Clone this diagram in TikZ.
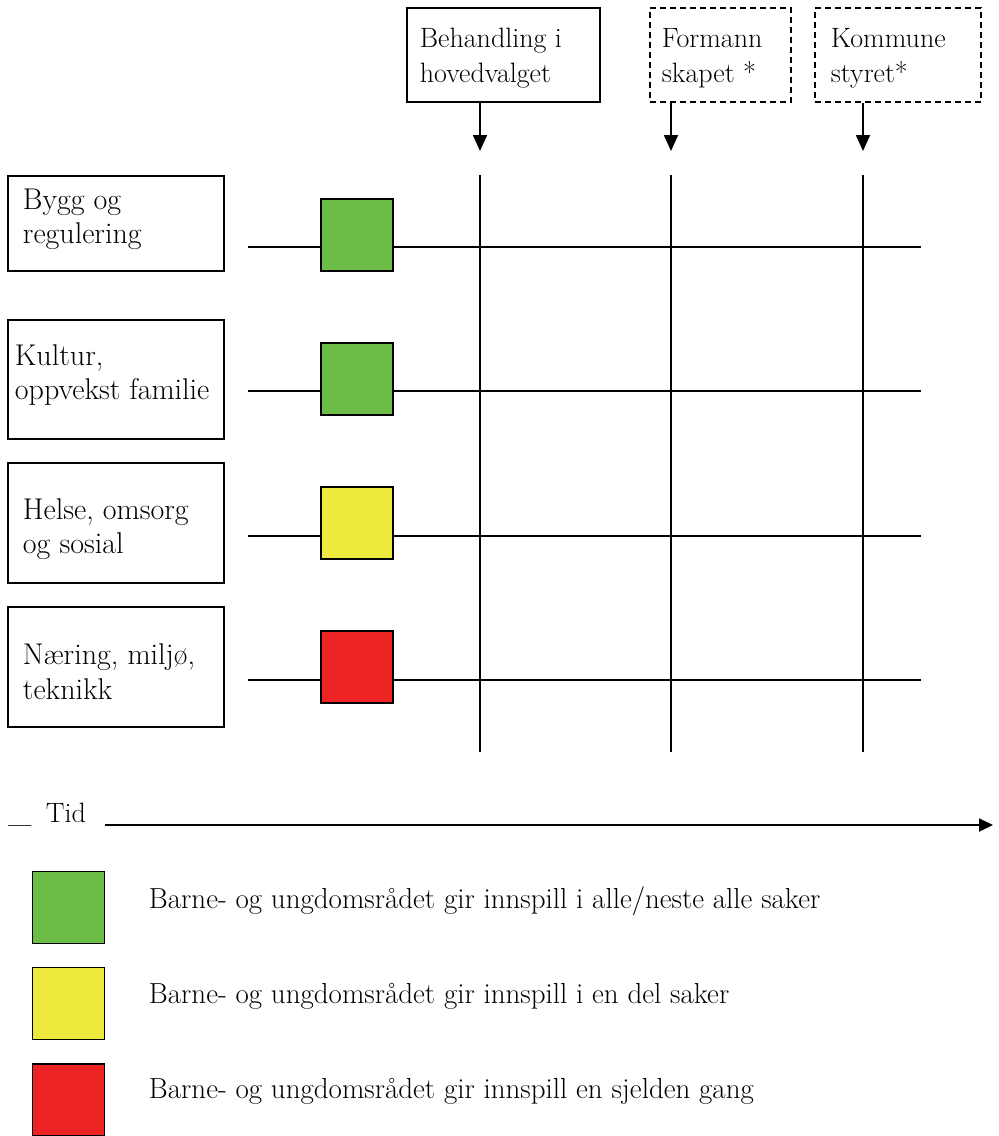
\documentclass[tikz,border=0pt]{standalone}
\usetikzlibrary{arrows.meta}
\definecolor{cgreen}{HTML}{6CBD45}
\definecolor{cyellow}{HTML}{EEEA3D}
\definecolor{cred}{HTML}{EE2424}

\begin{document}
\begin{tikzpicture}[x=1pt,y=-1pt,line width=1.8pt,
  txt/.style={anchor=base west,inner sep=0pt,font=\fontsize{28}{34}\selectfont},
  rowtxt/.style={txt,font=\fontsize{30}{34}\selectfont},
  legtxt/.style={txt,font=\fontsize{29}{34}\selectfont},
  frame/.style={draw,rectangle,inner sep=0pt},
  dframe/.style={frame,dash pattern=on 6pt off 4pt},
  sq/.style={draw,rectangle,inner sep=0pt,minimum size=72pt},
  arr/.style={-{Triangle[width=14pt,length=16pt]}}]
\useasboundingbox (0,0) rectangle (999,1136);

% decision stages at the top
\node[frame,minimum width=193,minimum height=94] (hv) at (503.5,55) {};
\node[txt] (hvt1) at (419,47) {Behandling i};
\node[txt] (hvt2) at (419,82) {hovedvalget};
\node[dframe,minimum width=141,minimum height=94] (fs) at (720.5,55) {};
\node[txt] (fst1) at (661,47) {Formann};
\node[txt] (fst2) at (661,82) {skapet *};
\node[dframe,minimum width=166,minimum height=94] (ks) at (898,55) {};
\node[txt] (kst1) at (830,47) {Kommune};
\node[txt] (kst2) at (830,82) {styret*};

\coordinate (a1) at (480,151);
\coordinate (a2) at (671,151);
\coordinate (a3) at (863,151);
\draw[arr] (hv.south -| a1) -- (a1);
\draw[arr] (fs.south -| a2) -- (a2);
\draw[arr] (ks.south -| a3) -- (a3);

% vertical stage lines
\coordinate (v1t) at (480,175); \coordinate (v1b) at (480,752);
\coordinate (v2t) at (671,175); \coordinate (v2b) at (671,752);
\coordinate (v3t) at (863,175); \coordinate (v3b) at (863,752);
\draw (v1t) -- (v1b);
\draw (v2t) -- (v2b);
\draw (v3t) -- (v3b);

% committee rows
\node[frame,minimum width=216,minimum height=95] (b1) at (116,223.5) {};
\node[rowtxt] (b1t1) at (22,209) {Bygg og};
\node[rowtxt] (b1t2) at (22,243) {regulering};
\node[frame,minimum width=216,minimum height=119] (b2) at (116,379.5) {};
\node[rowtxt] (b2t1) at (14,365) {Kultur,};
\node[rowtxt] (b2t2) at (14,399) {oppvekst familie};
\node[frame,minimum width=216,minimum height=120] (b3) at (116,523) {};
\node[rowtxt] (b3t1) at (22,519) {Helse, omsorg};
\node[rowtxt] (b3t2) at (22,553) {og sosial};
\node[frame,minimum width=216,minimum height=120] (b4) at (116,667) {};
\node[rowtxt] (b4t1) at (22,664) {Næring, miljø,};
\node[rowtxt] (b4t2) at (22,699) {teknikk};

\coordinate (r1l) at (248,247); \coordinate (r1r) at (921,247);
\coordinate (r2l) at (248,391); \coordinate (r2r) at (921,391);
\coordinate (r3l) at (248,536); \coordinate (r3r) at (921,536);
\coordinate (r4l) at (248,680); \coordinate (r4r) at (921,680);
\draw (r1l) -- (r1r);
\draw (r2l) -- (r2r);
\draw (r3l) -- (r3r);
\draw (r4l) -- (r4r);
\node[sq,fill=cgreen] (s1) at (357,235) {};
\node[sq,fill=cgreen] (s2) at (357,379) {};
\node[sq,fill=cyellow] (s3) at (357,523) {};
\node[sq,fill=cred] (s4) at (357,667) {};

% time axis
\node[txt] (us) at (8,820) {\scalebox{1.2}[1.6]{\_}};
\node[txt] (tid) at (45,822) {Tid};
\coordinate (t0) at (105,825);
\coordinate (t1) at (993,825);
\draw[arr,-{Triangle[width=13pt,length=14pt]}] (t0) -- (t1);

% legend
\node[sq,fill=cgreen] (l1) at (68.5,907.5) {};
\node[legtxt] (l1t) at (148,908) {Barne- og ungdomsrådet gir innspill i alle/neste alle saker};
\node[sq,fill=cyellow] (l2) at (68.5,1003.5) {};
\node[legtxt] (l2t) at (148,1003) {Barne- og ungdomsrådet gir innspill i en del saker};
\node[sq,fill=cred] (l3) at (68.5,1100) {};
\node[legtxt] (l3t) at (148,1098) {Barne- og ungdomsrådet gir innspill en sjelden gang};
\end{tikzpicture}
\end{document}
